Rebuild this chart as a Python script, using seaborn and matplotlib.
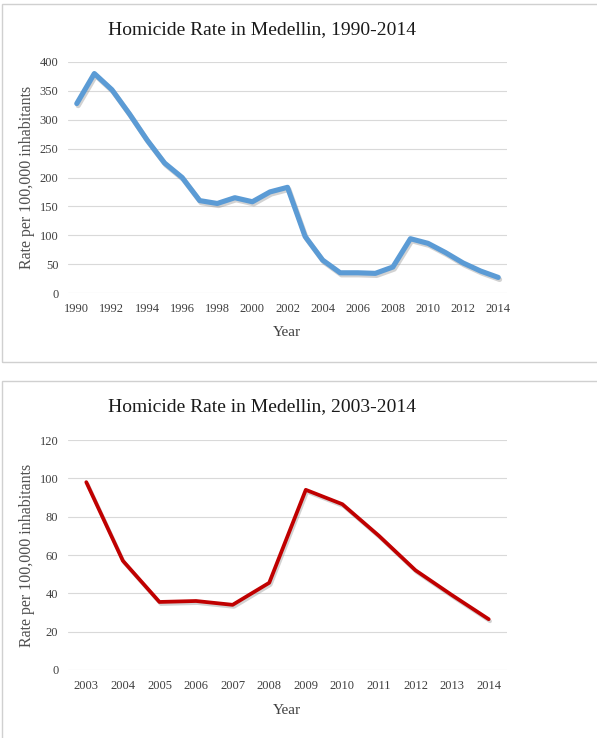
import numpy as np
import pandas as pd
import matplotlib
matplotlib.use("Agg")
import matplotlib.pyplot as plt
import matplotlib.patheffects as pe
from matplotlib.patches import Rectangle
import seaborn as sns

# ---- data ----
years_long = list(range(1990, 2015))
rate_long = [328, 380, 352, 310, 265, 225, 200, 160, 155, 165, 158, 175, 183,
             98, 57, 35, 35, 34, 45, 94, 86, 70, 52, 38, 27]
years_short = list(range(2003, 2015))
rate_short = [98, 57, 35.5, 36, 34, 45.5, 94, 86.5, 70, 52, 39, 26.5]

title_long = "Homicide Rate in Medellin, 1990-2014"
title_short = "Homicide Rate in Medellin, 2003-2014"
ylabel = "Rate per 100,000 inhabitants"
xlabel = "Year"

sns.set_style("whitegrid", {"grid.color": "#D9D9D9"})
plt.rcParams['font.family'] = ['Liberation Serif', 'DejaVu Serif']

W, H = 597, 738
fig = plt.figure(figsize=(W / 100, H / 100), dpi=100)

# panel borders
fig.patches.append(Rectangle((2 / W, 1 - 362 / H), 1.0, (362 - 4) / H,
                             transform=fig.transFigure, fill=False,
                             edgecolor="#D0D0D0", linewidth=1.0))
fig.patches.append(Rectangle((2 / W, -0.01), 1.0, 1 - 381 / H + 0.01,
                             transform=fig.transFigure, fill=False,
                             edgecolor="#D0D0D0", linewidth=1.0))

ax1 = fig.add_axes([68 / W, 1 - 293 / H, 439 / W, 231 / H])
ax2 = fig.add_axes([68 / W, 1 - 670 / H, 439 / W, 230 / H])

df1 = pd.DataFrame({"Year": years_long, "Rate": rate_long})
df2 = pd.DataFrame({"Year": years_short, "Rate": rate_short})

shadow = [pe.SimpleLineShadow(offset=(1.0, -1.5), shadow_color="#808080", alpha=0.35),
          pe.Normal()]

sns.lineplot(data=df1, x="Year", y="Rate", ax=ax1, color="#5B9BD5", linewidth=3.7)
sns.lineplot(data=df2, x="Year", y="Rate", ax=ax2, color="#C00000", linewidth=2.7)
for ax in (ax1, ax2):
    for ln in ax.lines:
        ln.set_path_effects(shadow)
        ln.set_solid_joinstyle("round")

tick_col = "#404040"
ax1.set_xlim(years_long[0] - 0.5, years_long[-1] + 0.5)
ax1.set_ylim(0, 400)
ax1.set_yticks(range(0, 401, 50))
ax1.set_xticks(years_long[::2])
ax2.set_xlim(years_short[0] - 0.5, years_short[-1] + 0.5)
ax2.set_ylim(0, 120)
ax2.set_yticks(range(0, 121, 20))
ax2.set_xticks(years_short)

for ax in (ax1, ax2):
    ax.grid(axis="x", visible=False)
    ax.grid(axis="y", color="#D9D9D9", linewidth=0.8)
    for s in ax.spines.values():
        s.set_visible(False)
    ax.tick_params(axis="y", labelsize=9, colors=tick_col, length=0, pad=7)
    ax.tick_params(axis="x", labelsize=9, colors=tick_col, length=0, pad=7)
    ax.set_xlabel("")
    ax.set_ylabel("")
    ax.set_facecolor("none")

fig.text(262 / W, 1 - 30 / H, title_long, ha="center", va="center",
         fontsize=14, color="#1A1A1A")
fig.text(262 / W, 1 - 407 / H, title_short, ha="center", va="center",
         fontsize=14, color="#1A1A1A")
fig.text(27 / W, 1 - 177 / H, ylabel, rotation=90, ha="center", va="center",
         fontsize=11.5, color="#505050")
fig.text(27 / W, 1 - 555 / H, ylabel, rotation=90, ha="center", va="center",
         fontsize=11.5, color="#505050")
fig.text(287 / W, 1 - 333 / H, xlabel, ha="center", va="center",
         fontsize=11, color="#404040")
fig.text(287 / W, 1 - 710 / H, xlabel, ha="center", va="center",
         fontsize=11, color="#404040")

fig.savefig("out.png", dpi=100)
